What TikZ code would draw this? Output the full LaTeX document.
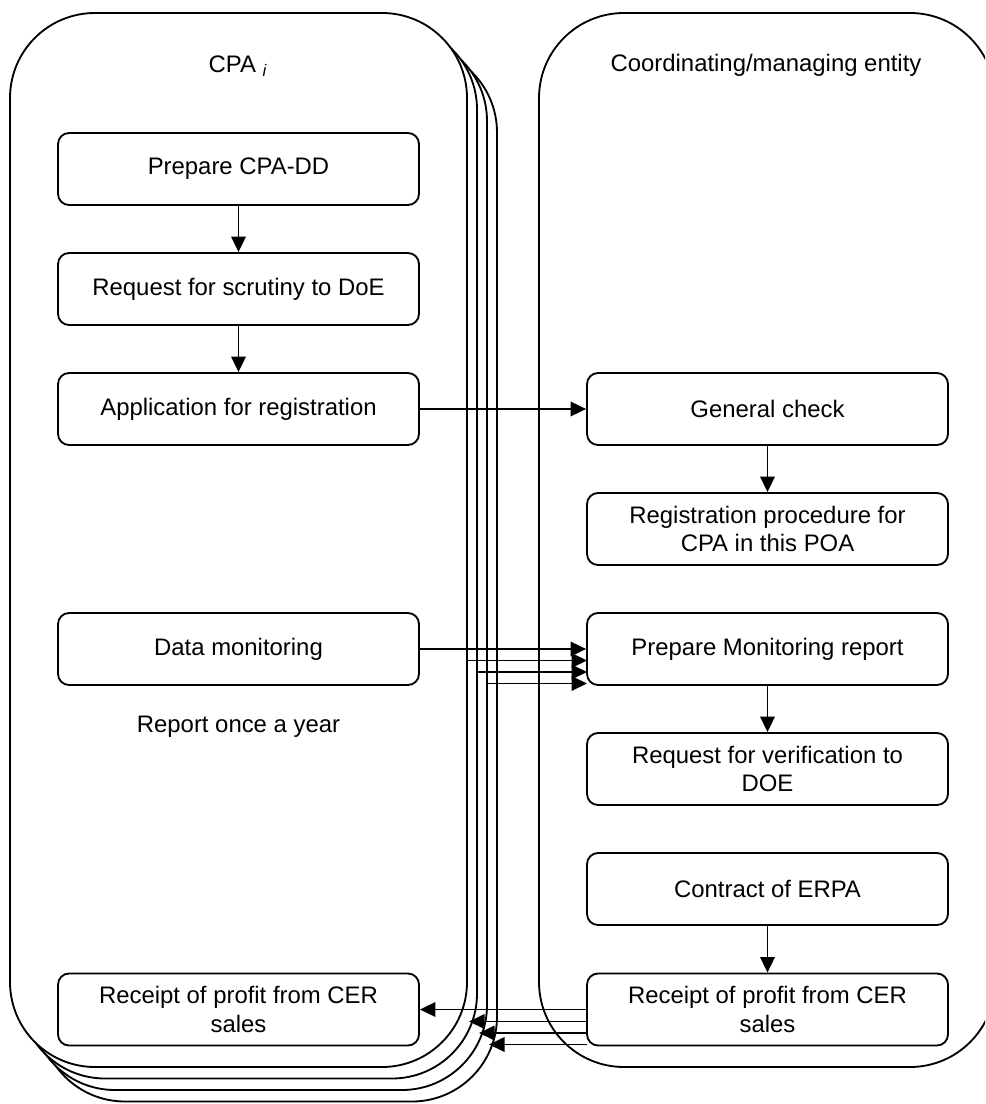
\documentclass[tikz,border=0pt]{standalone}
\usepackage{fontspec}
\setmainfont{Liberation Sans}
\usetikzlibrary{arrows.meta, positioning}

\tikzset{
  lane/.style={draw, fill=white, rounded corners=1.7cm},
  stepbox/.style={draw, fill=white, rounded corners=0.22cm, minimum width=7.22cm,
    minimum height=1.44cm, align=center, inner sep=2pt},
  flow/.style={-{Triangle[length=0.31cm, width=0.29cm]}}
}

\begin{document}
\begin{tikzpicture}[x=0.02cm, y=-0.02cm, line width=1.05pt, font=\fontsize{13.6}{16}\selectfont]
            \useasboundingbox (0,0) rectangle (985,1104);
            \clip (0,0) rectangle (985,1104);

            % Lane of the coordinating/managing entity
            \draw[lane] (539,13) rectangle (995,1067);
            \node (cmetitle) at (766,65) {Coordinating/managing entity};

            % Stacked CPA lanes, back to front
            \foreach \k in {3,2,1} {
                \draw[lane] (10+10*\k, 13+11.5*\k) rectangle (467+10*\k, 1067+11.5*\k);
                \coordinate (dmout\k) at (419+10*\k, 649+11.5*\k);
                \coordinate (mrin\k) at (587, 649+11.5*\k);
                \draw[flow] (dmout\k) -- (mrin\k);
            }

            % Front CPA lane
            \draw[lane] (10,13) rectangle (467,1067);
            \node (cpatitle) at (238,66) {CPA \textsubscript{\itshape i}};

            \node[stepbox] (prepdd) at (238.5,169) {Prepare CPA-DD};
            \node[stepbox] (scrutiny) at (238.5,289) {Request for scrutiny to DoE};
            \node[stepbox] (applic) at (238.5,409) {Application for registration};
            \node[stepbox] (datamon) at (238.5,649) {Data monitoring};
            \node (yearly) at (238.5,727) {Report once a year};
            \node[stepbox] (cpaprofit) at (238.5,1009.5) {Receipt of profit from CER\\sales};

            % Boxes of the coordinating/managing entity
            \node[stepbox] (gencheck) at (767.5,409) {General check};
            \node[stepbox] (regproc) at (767.5,529) {Registration procedure for\\CPA in this POA};
            \node[stepbox] (monrep) at (767.5,649) {Prepare Monitoring report};
            \node[stepbox] (verif) at (767.5,769) {Request for verification to\\DOE};
            \node[stepbox] (erpa) at (767.5,889) {Contract of ERPA};
            \node[stepbox] (cmeprofit) at (767.5,1009.5) {Receipt of profit from CER\\sales};

            % Flow
            \draw[flow] (prepdd) -- (scrutiny);
            \draw[flow] (scrutiny) -- (applic);
            \draw[flow] (applic) -- (gencheck);
            \draw[flow] (gencheck) -- (regproc);
            \draw[flow] (datamon) -- (monrep);
            \draw[flow] (monrep) -- (verif);
            \draw[flow] (erpa) -- (cmeprofit);
            \draw[flow] (cmeprofit) -- (cpaprofit);

            % Profit back to the hidden CPA lanes
            \foreach \k in {1,2,3} {
                \coordinate (pfout\k) at (587, 1010+11.5*\k);
                \coordinate (pfin\k) at (459+10*\k, 1010+11.5*\k);
                \draw[flow] (pfout\k) -- (pfin\k);
            }
        \end{tikzpicture}
\end{document}
